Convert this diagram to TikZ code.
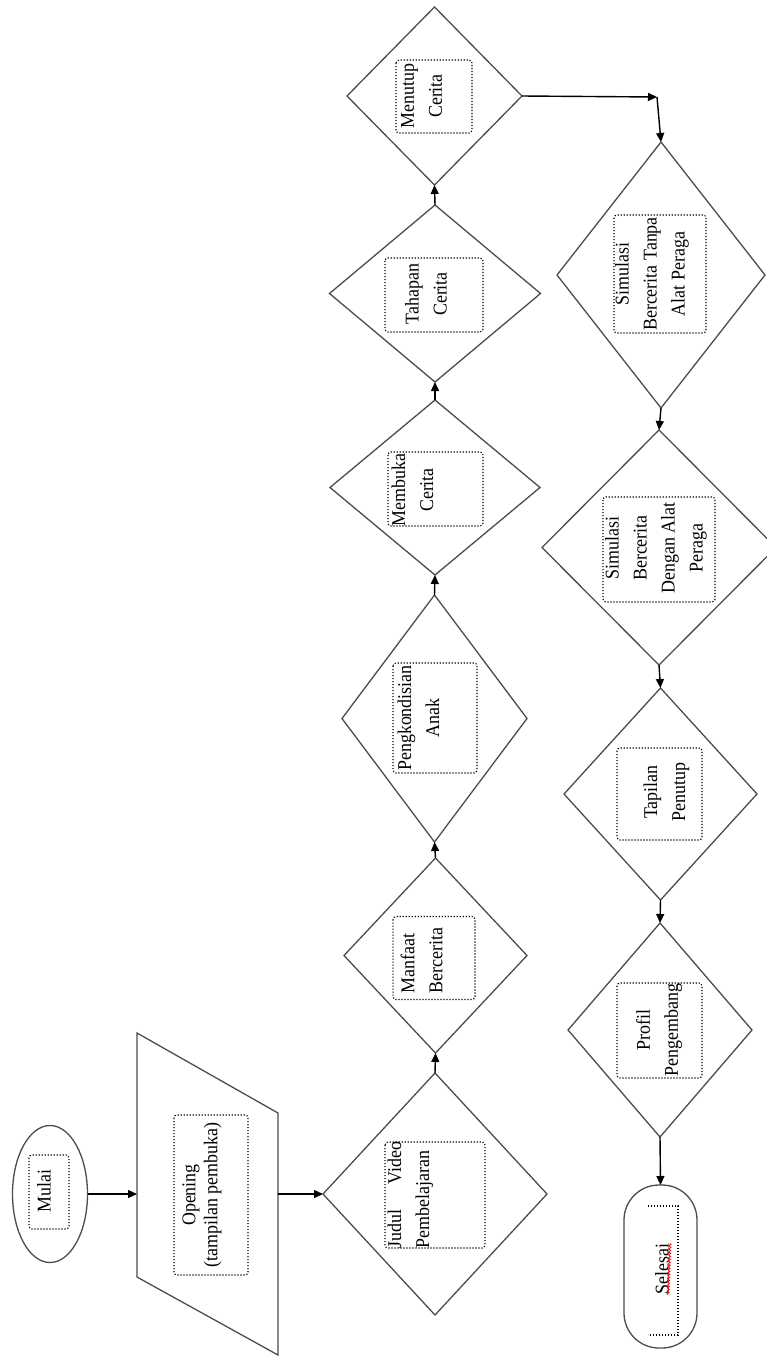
\documentclass[tikz,border=0pt]{standalone}
\usepackage{fontspec}
\setmainfont{Liberation Serif}[FakeStretch=0.92]
\usetikzlibrary{shapes.geometric,arrows.meta,calc,decorations.pathmorphing}
\begin{document}
\begin{tikzpicture}[x=1pt, y=-1pt, >={Triangle[length=9pt,width=8pt]},
        shapeline/.style={draw=black!70, line width=1.3pt},
        stepdia/.style={diamond, shapeline, inner sep=0pt, outer sep=0pt},
        tbox/.style={draw, rotate=90, dash pattern=on 1.2pt off 1.8pt, line width=1.1pt, rounded corners=3pt, inner sep=0pt},
        lbl/.style={rotate=90, align=center, inner sep=0pt, font=\fontsize{19.5}{28}\selectfont},
        flow/.style={->, line width=1.4pt}]
    \useasboundingbox (0,0) rectangle (767,1360);

    % Start and opening
    \node[ellipse, shapeline, minimum width=75pt, minimum height=137pt, inner sep=0pt, outer sep=0pt] (mulai) at (50,1194) {};
    \node[tbox, minimum width=74pt, minimum height=40pt] (mulaibox) at (49,1192) {};
    \node[lbl] (mulaitxt) at (44,1191) {Mulai};

    \node[minimum width=141pt, minimum height=322pt, inner sep=0pt, outer sep=0pt] (opening) at (207.5,1194) {};
    \draw[shapeline] (opening.north west) -- ($(opening.north east)+(0,80)$) -- (opening.south east)
        -- ($(opening.south west)+(0,-78)$) -- cycle;
    \node[tbox, minimum width=160pt, minimum height=74pt] (openingbox) at (211,1195) {};
    \node[lbl, font=\fontsize{19.5}{22}\selectfont] (openingtxt) at (202,1195) {Opening\\(tampilan pembuka)};

    % Left column (bottom to top)
    \foreach \nm/\cx/\cy/\w/\h in {judul/435/1194/224/242, manfaat/435.5/955.5/183/195,
            kondisi/434.5/718.5/185/247, membuka/435/487.5/210/175,
            tahapan/435/293.5/211/177, menutup/434.5/96/175/178} {
        \node[stepdia, minimum width=\w pt, minimum height=\h pt] (\nm) at (\cx,\cy) {};
    }
    \node[tbox, minimum width=106pt, minimum height=100pt] (judulbox) at (435,1195) {};
    \node[lbl, align=left, text width=106pt] (judultxt) at (410.5,1195) {Judul\hfill Video\\Pembelajaran};
    \node[tbox, minimum width=83pt, minimum height=82pt] (manfaatbox) at (434,958) {};
    \node[lbl, align=left, text width=68pt] (manfaattxt) at (421.5,959) {Manfaat\\Bercerita};
    \node[tbox, minimum width=110pt, minimum height=84pt] (kondisibox) at (435,718) {};
    \node[lbl] (kondisitxt) at (418.5,718) {Pengkondisian\\Anak};
    \node[tbox, minimum width=74pt, minimum height=95pt] (membukabox) at (435.5,489) {};
    \node[lbl] (membukatxt) at (412.5,490) {Membuka\\Cerita};
    \node[tbox, minimum width=74pt, minimum height=98pt] (tahapanbox) at (434,295) {};
    \node[lbl] (tahapantxt) at (426,294) {Tahapan\\Cerita};
    \node[tbox, minimum width=73pt, minimum height=76pt] (menutupbox) at (434,96.5) {};
    \node[lbl] (menuputxt) at (421.5,96) {Menutup\\Cerita};

    % Right column (top to bottom)
    \foreach \nm/\cx/\cy/\w/\h in {simtanpa/661/275/208/266, simdengan/659/547.5/234/235,
            tampilan/660.5/794/193/212, profil/660/1030/184/214} {
        \node[stepdia, minimum width=\w pt, minimum height=\h pt] (\nm) at (\cx,\cy) {};
    }
    \node[tbox, minimum width=118pt, minimum height=92pt] (simtanpabox) at (660,274) {};
    \node[lbl] (simtanpatxt) at (652,274) {Simulasi\\Bercerita Tanpa\\Alat Peraga};
    \node[tbox, minimum width=105pt, minimum height=112pt] (simdenganbox) at (659,549.5) {};
    \node[lbl] (simdengantxt) at (656,548) {Simulasi\\Bercerita\\Dengan Alat\\Peraga};
    \node[tbox, minimum width=92pt, minimum height=85pt] (tampilanbox) at (659.5,794) {};
    \node[lbl] (tampilantxt) at (666.5,792) {Tapilan\\Penutup};
    \node[tbox, minimum width=95pt, minimum height=85pt] (profilbox) at (659.5,1030.5) {};
    \node[lbl] (profiltxt) at (659,1030) {Profil\\Pengembang};

    % End
    \node[shapeline, rectangle, rounded corners=35pt, minimum width=73pt, minimum height=163pt, inner sep=0pt, outer sep=0pt] (selesai) at (660.5,1266.5) {};
    \node[lbl] (selesaitxt) at (662,1269) {Selesai};
    \draw[dash pattern=on 1.2pt off 1.8pt, line width=1.1pt] (648,1206) -| (678,1335) -- (648,1335);
    \draw[red, line width=0.8pt, decorate, decoration={zigzag, amplitude=1pt, segment length=3pt}]
        ([xshift=-1pt]selesaitxt.south west) -- ([xshift=1pt]selesaitxt.south east);

    % Connectors
    \draw[flow] (mulai.east) -- (opening.west);
    \draw[flow] (opening.east) -- (judul.west);
    \foreach \a/\b in {judul/manfaat, manfaat/kondisi, kondisi/membuka, membuka/tahapan, tahapan/menutup} {
        \draw[flow] (\a.north) -- (\b.south);
    }
    \coordinate (belok) at (657,97);
    \draw[flow] (menutup.east) -- (belok);
    \draw[flow] (belok) -- (simtanpa.north);
    \foreach \a/\b in {simtanpa/simdengan, simdengan/tampilan, tampilan/profil, profil/selesai} {
        \draw[flow] (\a.south) -- (\b.north);
    }
\end{tikzpicture}
\end{document}
